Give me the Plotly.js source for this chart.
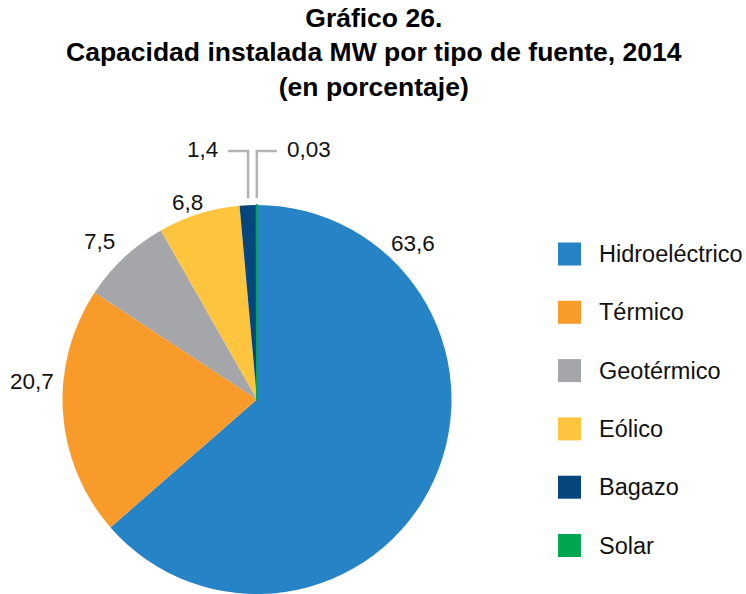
<!DOCTYPE html>
<html>
<head>
<meta charset="utf-8">
<script src="https://cdn.plot.ly/plotly-3.0.1.min.js"></script>
<style>html,body{margin:0;padding:0;background:#fff;}#chart{width:746px;height:594px;}</style>
</head>
<body>
<div id="chart"></div>
<script>
// ---- data ----
const labels = ['Hidroeléctrico', 'Térmico', 'Geotérmico', 'Eólico', 'Bagazo', 'Solar'];
const values = [63.6, 20.7, 7.5, 6.8, 1.4, 0.03];
const valueText = ['63,6', '20,7', '7,5', '6,8', '1,4', '0,03'];
const colors = ['#2683C6', '#F99B2A', '#A5A6A9', '#FFC43D', '#04467D', '#00A650'];
const titleLines = ['Gráfico 26.', 'Capacidad instalada MW por tipo de fuente, 2014', '(en porcentaje)'];

// ---- geometry (pixels) ----
const W = 746, H = 594;
const cx = 257, cy = 399.5, R = 194.5;
const FONT = 'Liberation Sans, Arial, sans-serif';
const px = x => x / W;
const py = y => 1 - y / H;

const total = values.reduce((a, b) => a + b, 0);
const mids = [];
let cum = 0;
values.forEach(v => { mids.push((cum + v / 2) / total * 2 * Math.PI); cum += v; });

// label placement: [angleDeg from 12 o'clock clockwise, distance] for the outside labels
const labelPlace = [[45, 221], [274.5, 226], [315, 223], [340.7, 209]];

const annotations = [];
const shapes = [];
labelPlace.forEach((p, i) => {
  const a = p[0] * Math.PI / 180;
  annotations.push({
    x: px(cx + p[1] * Math.sin(a)), y: py(cy - p[1] * Math.cos(a)),
    xref: 'paper', yref: 'paper', text: valueText[i], showarrow: false,
    xanchor: 'center', yanchor: 'middle', font: {family: FONT, size: 22.5, color: '#111111'}
  });
});

// leader lines for the two smallest slices
const leaderTop = 151, gap = 7, hook = 20;
[4, 5].forEach(i => {
  const a = mids[i];
  const xs = cx + R * Math.sin(a);
  const ys = cy - R * Math.cos(a) - gap;
  const dir = (i === 4) ? -1 : 1;
  const xe = xs + dir * hook;
  shapes.push({type: 'path', xref: 'paper', yref: 'paper',
    path: `M ${px(xs)} ${py(ys)} L ${px(xs)} ${py(leaderTop)} L ${px(xe)} ${py(leaderTop)}`,
    line: {color: '#B3B3B3', width: 2.5}});
  annotations.push({
    x: px(xe + dir * 8), y: py(leaderTop - 2), xref: 'paper', yref: 'paper',
    text: valueText[i], showarrow: false,
    xanchor: dir < 0 ? 'right' : 'left', yanchor: 'middle',
    font: {family: FONT, size: 22.5, color: '#111111'}
  });
});

// custom legend
const legX = 558, legSize = 23, legY0 = 254, legStep = 58.3;
labels.forEach((lab, i) => {
  const yc = legY0 + i * legStep;
  shapes.push({type: 'rect', xref: 'paper', yref: 'paper',
    x0: px(legX), x1: px(legX + legSize), y0: py(yc + legSize / 2), y1: py(yc - legSize / 2),
    fillcolor: colors[i], line: {width: 0}});
  annotations.push({x: px(597), y: py(yc), xref: 'paper', yref: 'paper', text: lab,
    showarrow: false, xanchor: 'left', yanchor: 'middle',
    font: {family: FONT, size: 23.5, color: '#111111'}});
});

// title block
annotations.push({
  x: px(374), y: py(52), xref: 'paper', yref: 'paper',
  text: '<b>' + titleLines.join('<br>') + '</b>', showarrow: false,
  xanchor: 'center', yanchor: 'middle', align: 'center',
  font: {family: FONT, size: 26.5, color: '#000000'}
});

const trace = {
  type: 'pie',
  labels: labels,
  values: values,
  sort: false,
  direction: 'clockwise',
  rotation: 0,
  textinfo: 'none',
  hoverinfo: 'label+value',
  showlegend: false,
  marker: {
    colors: colors,
    line: {color: colors, width: [0, 0, 0, 0, 0, 2]}
  },
  domain: {x: [px(cx - R), px(cx + R)], y: [py(cy + R), py(cy - R)]}
};

const layout = {
  width: W, height: H,
  margin: {l: 0, r: 0, t: 0, b: 0},
  paper_bgcolor: '#ffffff',
  showlegend: false,
  shapes: shapes,
  annotations: annotations
};

Plotly.newPlot('chart', [trace], layout, {displayModeBar: false, staticPlot: true});
</script>
</body>
</html>
